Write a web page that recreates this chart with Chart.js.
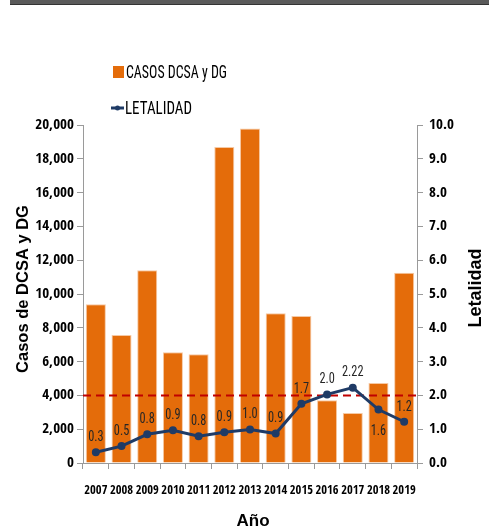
<!DOCTYPE html>
<html lang="es">
<head>
    <meta charset="UTF-8">
    <title>Casos DCSA y DG - Letalidad</title>
    <script src="https://cdn.jsdelivr.net/npm/chart.js"></script>
    <style>
        body { margin: 0; background: #fff; }
        #wrap { position: relative; width: 489px; height: 528px; }
        #band { position: absolute; left: 10px; top: 0; width: 479px; height: 4px; background: #5a5a5a; border-bottom: 1px solid #333; }
        canvas { position: absolute; left: 0; top: 0; }
    </style>
</head>
<body>
<div id="wrap">
    <canvas id="casosChart" width="489" height="528"></canvas>
    <div id="band"></div>
</div>
<script>
    const years = ['2007', '2008', '2009', '2010', '2011', '2012', '2013', '2014', '2015', '2016', '2017', '2018', '2019'];
    const casos = [9400, 7570, 11400, 6550, 6430, 18700, 19800, 8860, 8700, 3710, 2960, 4730, 11260];
    const letalidad = [0.32, 0.50, 0.85, 0.97, 0.79, 0.91, 0.99, 0.87, 1.75, 2.03, 2.23, 1.58, 1.22];
    const letalidadLabels = ['0.3', '0.5', '0.8', '0.9', '0.8', '0.9', '1.0', '0.9', '1.7', '2.0', '2.22', '1.6', '1.2'];
    const labelBelow = [false, false, false, false, false, false, false, false, false, false, false, true, false];
    const referencia = 2.0;

    const NARROW = "'Open Sans Condensed', 'Roboto Condensed', sans-serif";
    const REGULAR = "'Roboto Condensed', sans-serif";
    const ORANGE = '#E46C0A';
    const NAVY = '#1F3B66';

    // text squeezed horizontally (Calibri-like look)
    function squeezed(ctx, text, x, y, sx, align) {
        ctx.save();
        ctx.translate(x, y);
        ctx.scale(sx, 1);
        ctx.textAlign = align;
        ctx.fillText(text, 0, 0);
        ctx.restore();
    }

    // dashed reference line between bars and the line series
    const refLine = {
        id: 'refLine',
        afterDatasetDraw(chart, args) {
            if (args.meta.type !== 'bar') return;
            const ctx = chart.ctx, a = chart.chartArea;
            const y = chart.scales.y1.getPixelForValue(referencia);
            ctx.save();
            ctx.strokeStyle = '#C00000';
            ctx.lineWidth = 2;
            ctx.setLineDash([8, 5]);
            ctx.beginPath();
            ctx.moveTo(a.left, y);
            ctx.lineTo(a.right, y);
            ctx.stroke();
            ctx.restore();
        }
    };

    // value labels, legend and axis titles
    const extras = {
        id: 'extras',
        afterDatasetsDraw(chart) {
            const ctx = chart.ctx;
            const meta = chart.getDatasetMeta(1);
            ctx.save();
            ctx.font = '15px ' + REGULAR;
            ctx.fillStyle = '#262626';
            ctx.textBaseline = 'middle';
            meta.data.forEach((pt, i) => {
                const dy = labelBelow[i] ? 22 : -15;
                squeezed(ctx, letalidadLabels[i], pt.x, pt.y + dy, 0.82, 'center');
            });
            ctx.restore();
        },
        afterDraw(chart) {
            const ctx = chart.ctx;
            ctx.save();
            // legend
            ctx.fillStyle = ORANGE;
            ctx.fillRect(113, 66, 11, 12);
            ctx.strokeStyle = NAVY;
            ctx.lineWidth = 3;
            ctx.beginPath();
            ctx.moveTo(111, 108);
            ctx.lineTo(124, 108);
            ctx.stroke();
            ctx.fillStyle = NAVY;
            ctx.beginPath();
            ctx.arc(117.5, 108, 2.5, 0, Math.PI * 2);
            ctx.fill();
            ctx.fillStyle = '#000';
            ctx.font = '18px ' + REGULAR;
            ctx.textBaseline = 'alphabetic';
            const l0 = chart.data.datasets[0].label, l1 = chart.data.datasets[1].label;
            squeezed(ctx, l0, 126, 78, 101 / ctx.measureText(l0).width, 'left');
            squeezed(ctx, l1, 125, 114, 67 / ctx.measureText(l1).width, 'left');
            // axis titles
            ctx.font = 'bold 16.5px "Liberation Sans", Arial, sans-serif';
            ctx.textAlign = 'center';
            ctx.textBaseline = 'middle';
            ctx.save();
            ctx.translate(23, 289);
            ctx.rotate(-Math.PI / 2);
            ctx.fillText('Casos de DCSA y DG', 0, 0);
            ctx.restore();
            ctx.font = 'bold 18px "Liberation Sans", Arial, sans-serif';
            ctx.save();
            ctx.translate(476, 288);
            ctx.rotate(-Math.PI / 2);
            ctx.fillText('Letalidad', 0, 0);
            ctx.restore();
            ctx.font = 'bold 17px "Liberation Sans", Arial, sans-serif';
            ctx.textBaseline = 'alphabetic';
            ctx.fillText('Año', 253, 526);
            ctx.restore();
        }
    };

    const tickFont = { family: NARROW, size: 15, weight: 'bold' };

    new Chart(document.getElementById('casosChart'), {
        data: {
            labels: years,
            datasets: [{
                type: 'bar',
                label: 'CASOS DCSA y DG',
                data: casos,
                backgroundColor: ORANGE,
                borderColor: '#F6C9A4',
                borderWidth: 1,
                barPercentage: 0.78,
                categoryPercentage: 1,
                yAxisID: 'y',
                order: 1
            }, {
                type: 'line',
                label: 'LETALIDAD',
                data: letalidad,
                borderColor: NAVY,
                backgroundColor: NAVY,
                borderWidth: 3,
                pointRadius: 2.5,
                pointStyle: 'circle',
                tension: 0,
                yAxisID: 'y1',
                order: 0
            }]
        },
        options: {
            responsive: false,
            animation: false,
            layout: { padding: { top: 125, left: 0, right: 0, bottom: 0 } },
            plugins: { legend: { display: false }, tooltip: { enabled: false } },
            scales: {
                x: {
                    grid: { drawOnChartArea: false, tickLength: 6, color: '#9a9a9a', offset: true },
                    border: { color: '#9a9a9a' },
                    ticks: { font: { family: NARROW, size: 12.5, weight: 'bold' }, color: '#000', padding: 14,
                        maxRotation: 0, autoSkip: false },
                    afterFit: s => { s.height = 65; }
                },
                y: {
                    position: 'left',
                    min: 0, max: 20000,
                    grid: { drawOnChartArea: false, tickLength: 6, color: '#9a9a9a' },
                    border: { color: '#9a9a9a' },
                    ticks: { stepSize: 2000, font: tickFont, color: '#000', padding: 3,
                        callback: v => v.toLocaleString('en-US') },
                    afterFit: s => { s.width = 83; }
                },
                y1: {
                    position: 'right',
                    min: 0, max: 10,
                    grid: { drawOnChartArea: false, tickLength: 6, color: '#9a9a9a' },
                    border: { color: '#9a9a9a' },
                    ticks: { stepSize: 1, font: tickFont, color: '#000', padding: 6,
                        callback: v => v.toFixed(1) },
                    afterFit: s => { s.width = 72; }
                }
            }
        },
        plugins: [refLine, extras]
    });
</script>
</body>
</html>
